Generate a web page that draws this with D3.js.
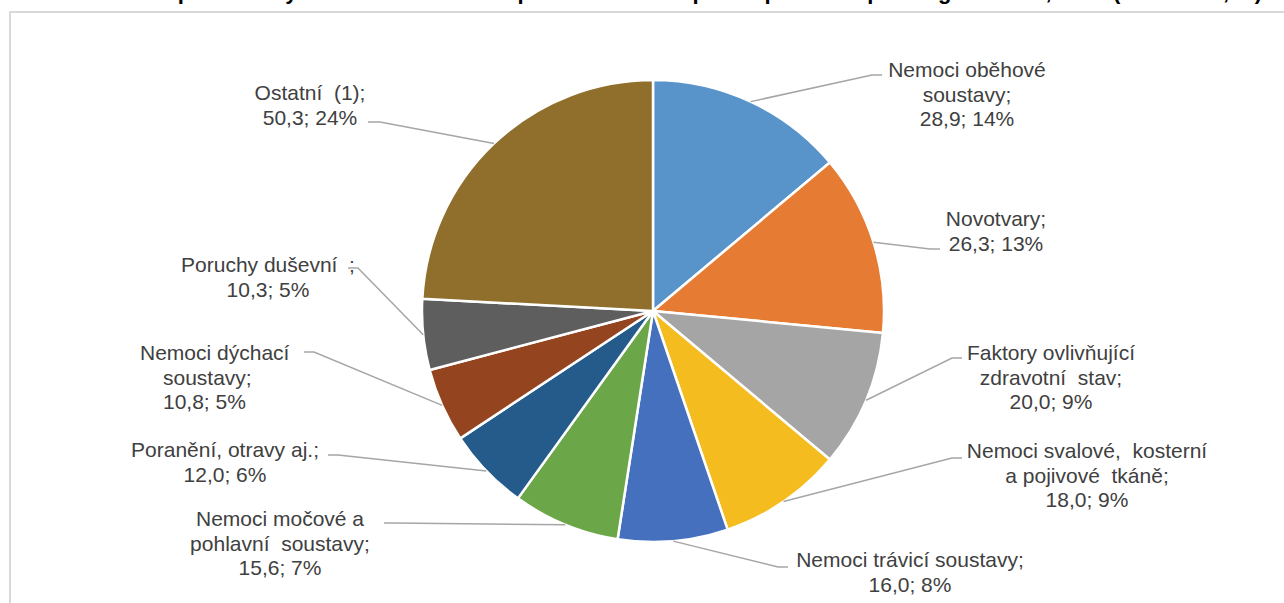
<!DOCTYPE html>
<html>
<head>
<meta charset="utf-8">
<script src="https://cdn.jsdelivr.net/npm/d3@7/dist/d3.min.js"></script>
<style>
  html, body { margin: 0; padding: 0; background: #fff; overflow: hidden; }
  svg { display: block; }
  .lbl { font-family: "Liberation Sans", Arial, sans-serif; font-size: 21px; fill: #404040; white-space: pre; }
  .title { font-family: "Liberation Sans", Arial, sans-serif; font-size: 22px; font-weight: bold; fill: #000; }
</style>
</head>
<body>
<svg id="chart" width="1284" height="603"></svg>
<script>
// Categories (label lines), values in millions of days, and shares in %
const categories = [
  ["Nemoci oběhové", "soustavy;"],
  ["Novotvary;"],
  ["Faktory ovlivňující", "zdravotní  stav;"],
  ["Nemoci svalové,  kosterní", "a pojivové  tkáně;"],
  ["Nemoci trávicí soustavy;"],
  ["Nemoci močové a", "pohlavní  soustavy;"],
  ["Poranění, otravy aj.;"],
  ["Nemoci dýchací", "soustavy;"],
  ["Poruchy duševní  ;"],
  ["Ostatní  (1);"]
];
const values   = [28.9, 26.3, 20.0, 18.0, 16.0, 15.6, 12.0, 10.8, 10.3, 50.3];
const percents = [14, 13, 9, 9, 8, 7, 6, 5, 5, 24];
const colors   = ["#5893c9", "#e67b33", "#a5a5a5", "#f5bc1f", "#4470bd",
                  "#6ba649", "#245b8b", "#944520", "#5e5e5e", "#8f6f2b"];
const titleText = "Počet prostonaných kalendářních dnů pracovní neschopnosti podle skupin diagnóz v ČR, 2019 (v mil. dnů, %)";

// Label placement: x, first baseline, alignment, optional per-line x, leader end point
const labelLayout = [
  { x: 967,  y: 77,  anchor: "middle", end: [882, 75],  elbow: -10 },
  { x: 996,  y: 226, anchor: "middle", end: [940, 249], elbow: -10 },
  { x: 1051, y: 360, anchor: "middle", end: [962, 358], elbow: -10 },
  { x: 1087, y: 458, anchor: "middle", end: [962, 458], elbow: -10 },
  { x: 910,  y: 567, anchor: "middle", end: [788, 567], elbow: -10 },
  { x: 280,  y: 526, anchor: "middle", end: [384, 523], elbow: 10 },
  { x: 225,  y: 457, anchor: "middle", end: [328, 455], elbow: 10 },
  { x: 140,  y: 360, anchor: "start", lineX: [140, 163, 163], end: [304, 352], elbow: 10 },
  { x: 268,  y: 272, anchor: "middle", end: [348, 268], elbow: 10 },
  { x: 310,  y: 100, anchor: "middle", end: [368, 122], elbow: 12 }
];

const svg = d3.select("#chart");
const W = 1284, H = 603;
const cx = 653, cy = 311, R = 231;

// chart frame
svg.append("path")
  .attr("d", `M10,${H + 2} L10,12 L${W + 2},12`)
  .attr("fill", "none")
  .attr("stroke", "#d9d9d9")
  .attr("stroke-width", 2);

// title sits above the frame, mostly outside the visible area
svg.append("text")
  .attr("class", "title")
  .attr("x", 1262).attr("y", -1)
  .attr("text-anchor", "end")
  .text(titleText);

const data = values.map((v, i) => ({ i, v }));
const pie = d3.pie().sort(null).value(d => d.v);
const arcs = pie(data);
const arc = d3.arc().innerRadius(0).outerRadius(R);

const g = svg.append("g").attr("transform", `translate(${cx},${cy})`);
g.selectAll("path.slice")
  .data(arcs)
  .join("path")
  .attr("class", "slice")
  .attr("d", arc)
  .attr("fill", d => colors[d.data.i])
  .attr("stroke", "#fff")
  .attr("stroke-width", 2.5)
  .attr("stroke-linejoin", "round");

// leader lines from slice edge (mid angle) to labels
const fmt = v => v.toFixed(1).replace(".", ",");
arcs.forEach(a => {
  const i = a.data.i;
  const L = labelLayout[i];
  const mid = (a.startAngle + a.endAngle) / 2;
  const sx = cx + R * Math.sin(mid);
  const sy = cy - R * Math.cos(mid);
  const [ex, ey] = L.end;
  svg.append("polyline")
    .attr("points", `${sx},${sy} ${ex + L.elbow},${ey} ${ex},${ey}`)
    .attr("fill", "none")
    .attr("stroke", "#a6a6a6")
    .attr("stroke-width", 1.5);

  const lines = categories[i].concat([`${fmt(values[i])}; ${percents[i]}%`]);
  const t = svg.append("text")
    .attr("class", "lbl")
    .attr("text-anchor", L.anchor);
  lines.forEach((ln, k) => {
    t.append("tspan")
      .attr("x", L.lineX ? L.lineX[k] : L.x)
      .attr("y", L.y + k * 24.5)
      .text(ln);
  });
});
</script>
</body>
</html>
